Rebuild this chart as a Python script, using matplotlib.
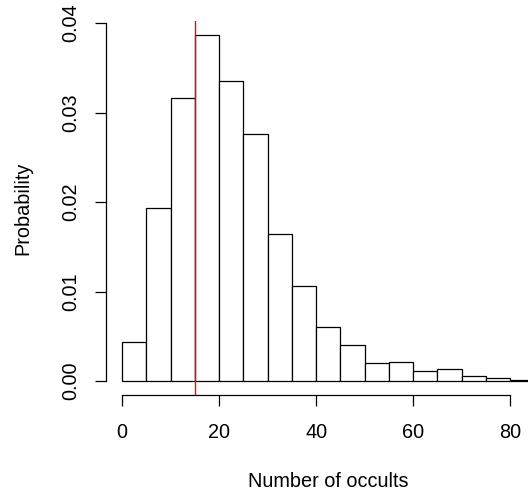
import numpy as np
import matplotlib
matplotlib.use("Agg")
import matplotlib.pyplot as plt

# histogram of occult counts, 5-wide bins from 0 to 85
bin_edges = [0, 5, 10, 15, 20, 25, 30, 35, 40, 45, 50, 55, 60, 65, 70, 75, 80, 85]
probs = [0.0044, 0.0193, 0.0316, 0.0387, 0.0335, 0.0276, 0.0164, 0.0106,
         0.0060, 0.0040, 0.0020, 0.0021, 0.0011, 0.0013, 0.0006, 0.0004, 0.0001]
cutoff = 15
x_ticks = [0, 20, 40, 60, 80]
y_ticks = [0.00, 0.01, 0.02, 0.03, 0.04]
y_labels = ["0.00", "0.01", "0.02", "0.03", "0.04"]

fs = 14.3
plt.rcParams['font.family'] = ['Liberation Sans', 'DejaVu Sans']
plt.rcParams['font.size'] = fs

fig = plt.figure(figsize=(5.28, 4.98), dpi=100)
# plot region runs past the right edge, like the cropped R device
ax = fig.add_axes([105.5 / 528, (498 - 395) / 498, 445.5 / 528, 374.2 / 498])

ax.bar(bin_edges[:-1], probs, width=np.diff(bin_edges), align='edge',
       facecolor='white', edgecolor='black', linewidth=0.9)
ax.axvline(cutoff, color='red', linewidth=1.0, zorder=5)

ax.set_xlim(-3.4, 88.4)
ax.set_ylim(-0.00155, 0.04025)

for s in ['top', 'right']:
    ax.spines[s].set_visible(False)
ax.spines['left'].set_bounds(0, 0.04)
ax.spines['bottom'].set_bounds(0, 80)
ax.spines['left'].set_linewidth(0.9)
ax.spines['bottom'].set_linewidth(0.9)

ax.set_xticks(x_ticks)
ax.set_yticks(y_ticks)
ax.set_yticklabels(y_labels, rotation=90, va='center')
ax.tick_params(axis='both', length=8, width=0.9, labelsize=fs)
ax.tick_params(axis='x', pad=12)
ax.tick_params(axis='y', pad=10)

ax.set_xlabel("Number of occults", fontsize=fs, labelpad=22)
ax.set_ylabel("Probability", fontsize=fs, labelpad=21)

fig.savefig("out.png", dpi=100)
